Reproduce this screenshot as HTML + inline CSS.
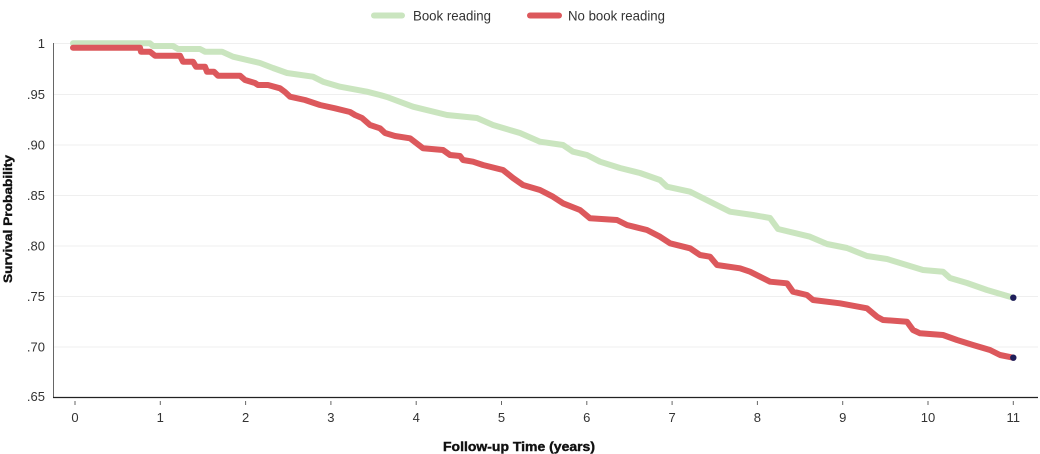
<!DOCTYPE html>
<html>
<head>
<meta charset="utf-8">
<style>
html,body{margin:0;padding:0;background:#fff;}
svg{display:block;}
text{font-family:"Liberation Sans",sans-serif;}
</style>
</head>
<body>
<svg width="1040" height="454" viewBox="0 0 1040 454" xmlns="http://www.w3.org/2000/svg">
<rect width="1040" height="454" fill="#fff"/>
<!-- legend -->
<line x1="374" y1="15.5" x2="402" y2="15.5" stroke="#cae5bf" stroke-width="6" stroke-linecap="round"/>
<text x="413" y="20.5" font-size="14" fill="#333" textLength="78" lengthAdjust="spacingAndGlyphs">Book reading</text>
<line x1="530" y1="15.5" x2="559" y2="15.5" stroke="#dc585c" stroke-width="6" stroke-linecap="round"/>
<text x="568" y="20.5" font-size="14" fill="#333" textLength="97" lengthAdjust="spacingAndGlyphs">No book reading</text>

<!-- gridlines -->
<g stroke="#efefef" stroke-width="1">
<line x1="54" y1="43.5" x2="1038" y2="43.5"/>
<line x1="54" y1="94.5" x2="1038" y2="94.5"/>
<line x1="54" y1="145" x2="1038" y2="145"/>
<line x1="54" y1="195.5" x2="1038" y2="195.5"/>
<line x1="54" y1="246" x2="1038" y2="246"/>
<line x1="54" y1="296.5" x2="1038" y2="296.5"/>
<line x1="54" y1="347" x2="1038" y2="347"/>
</g>

<!-- axes -->
<line x1="53.5" y1="43" x2="53.5" y2="397.5" stroke="#666" stroke-width="1"/>
<line x1="53" y1="397.5" x2="1038" y2="397.5" stroke="#222" stroke-width="1.2"/>

<!-- y tick labels -->
<g font-size="13" fill="#333" text-anchor="end">
<text x="45" y="48">1</text>
<text x="45" y="99">.95</text>
<text x="45" y="149.5">.90</text>
<text x="45" y="200">.85</text>
<text x="45" y="250.5">.80</text>
<text x="45" y="301">.75</text>
<text x="45" y="351.5">.70</text>
<text x="45" y="401">.65</text>
</g>

<!-- x ticks -->
<g stroke="#666" stroke-width="1">
<line x1="75" y1="401" x2="75" y2="405"/>
<line x1="160.3" y1="401" x2="160.3" y2="405"/>
<line x1="245.6" y1="401" x2="245.6" y2="405"/>
<line x1="330.9" y1="401" x2="330.9" y2="405"/>
<line x1="416.2" y1="401" x2="416.2" y2="405"/>
<line x1="501.5" y1="401" x2="501.5" y2="405"/>
<line x1="586.8" y1="401" x2="586.8" y2="405"/>
<line x1="672.1" y1="401" x2="672.1" y2="405"/>
<line x1="757.4" y1="401" x2="757.4" y2="405"/>
<line x1="842.7" y1="401" x2="842.7" y2="405"/>
<line x1="928" y1="401" x2="928" y2="405"/>
<line x1="1013.3" y1="401" x2="1013.3" y2="405"/>
</g>
<g font-size="13" fill="#333" text-anchor="middle">
<text x="75" y="422">0</text>
<text x="160.3" y="422">1</text>
<text x="245.6" y="422">2</text>
<text x="330.9" y="422">3</text>
<text x="416.2" y="422">4</text>
<text x="501.5" y="422">5</text>
<text x="586.8" y="422">6</text>
<text x="672.1" y="422">7</text>
<text x="757.4" y="422">8</text>
<text x="842.7" y="422">9</text>
<text x="928" y="422">10</text>
<text x="1013.3" y="422">11</text>
</g>

<!-- axis titles -->
<text x="519" y="451" font-size="13" font-weight="bold" fill="#111" text-anchor="middle" textLength="152" lengthAdjust="spacingAndGlyphs" stroke="#111" stroke-width="0.4">Follow-up Time (years)</text>
<text transform="translate(12,219) rotate(-90)" x="0" y="0" font-size="12" font-weight="bold" fill="#111" text-anchor="middle" textLength="128" lengthAdjust="spacingAndGlyphs" stroke="#111" stroke-width="0.4">Survival Probability</text>

<!-- series -->
<polyline fill="none" stroke="#cae5bf" stroke-width="6" stroke-linejoin="round" stroke-linecap="round"
points="73,43.3 150,43.3 153,46 173,46 178,49 200,49 205,51.7 222,51.7 233,56.7 260,63 273,68 287,73 313,76.7 323,81.7 340,86.7 367,91.7 380,95 387,97 413,106.7 447,115 477,118 493,125 520,133 540,141.7 563,145 573,151.7 587,155 600,161.7 620,168 640,173 660,180 667,186.7 690,191.7 700,196.7 730,211.7 753,215 770,218 778,229 810,236.7 827,244 847,248 867,256 887,259 923,270 943,271.7 950,278 967,283 987,290 1013.3,297.7"/>
<polyline fill="none" stroke="#dc585c" stroke-width="6" stroke-linejoin="round" stroke-linecap="round"
points="73,47.7 140,47.7 141,51.7 150,51.7 155,55.7 180,55.7 183,61.7 193,61.7 196,66.7 205,66.7 207,71.7 214,71.7 218,75.7 240,75.7 245,80 255,83 258,85 268,85 280,88.3 285,92 290,96.7 305,100 320,105 335,108.3 350,112 355,115 362,118 370,125 380,128.3 385,133 395,136 410,138.3 423,148.3 443,150 450,155 460,156 463,160 473,161.7 483,165 503,170 513,178 523,185 540,190 553,196.7 563,203.3 580,210 590,218.3 617,220 627,225 647,230 660,236.7 670,243.3 690,248.3 700,255 710,256.7 717,265 740,268.3 750,271.7 760,276.7 770,281.7 787,283.3 793,291.7 807,295 813,300 840,303.3 867,308.3 877,316.7 883,320 907,321.7 913,330 920,333.3 943,335 957,340 973,345 990,350 1000,355 1013.3,357.7"/>
<circle cx="1013.3" cy="297.7" r="3.2" fill="#1f1f5a"/>
<circle cx="1013.3" cy="357.7" r="3.2" fill="#1f1f5a"/>
</svg>
</body>
</html>
